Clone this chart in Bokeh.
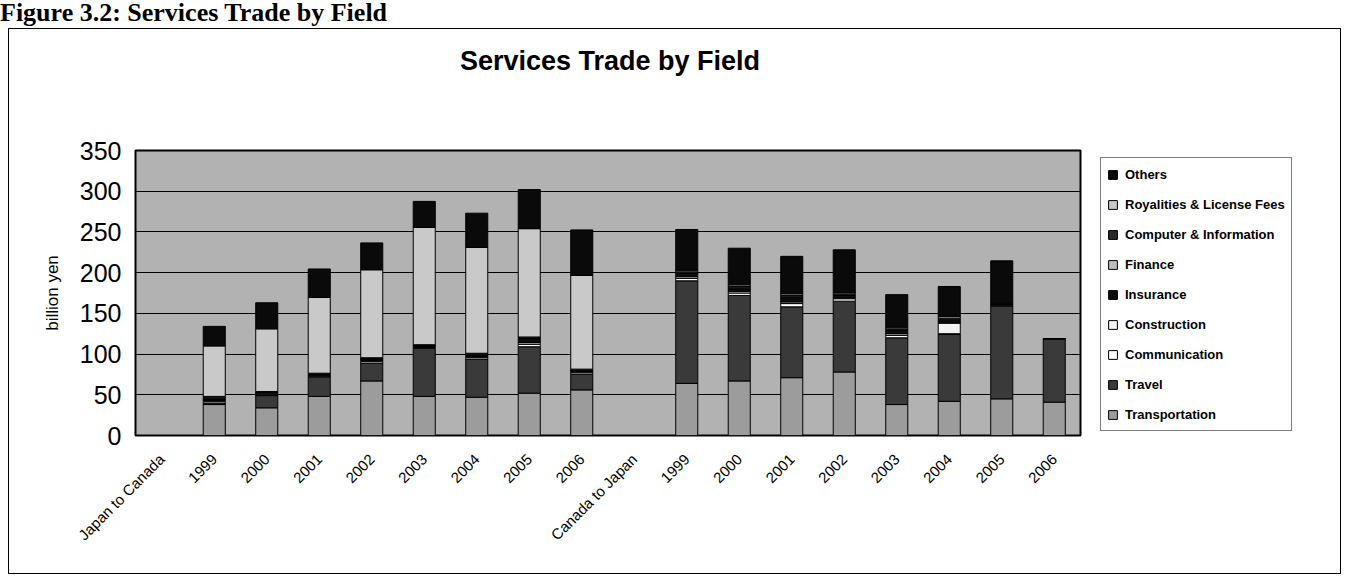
import math
from bokeh.plotting import figure
from bokeh.models import Range1d, FixedTicker, Legend, LegendItem, Div
from bokeh.layouts import column, row
from bokeh.embed import file_html
from bokeh.resources import INLINE

categories = ["Japan to Canada", "1999", "2000", "2001", "2002", "2003", "2004", "2005", "2006",
              "Canada to Japan", "1999", "2000", "2001", "2002", "2003", "2004", "2005", "2006"]
series_names = ["Transportation", "Travel", "Communication", "Construction", "Insurance",
                "Finance", "Computer & Information", "Royalities & License Fees", "Others"]

transportation = [0, 38, 34, 48, 67, 48, 47, 52, 56, 0, 64, 67, 71, 78, 38, 42, 45, 41]
travel = [0, 2, 15, 24, 22, 59, 47, 57, 19, 0, 126, 105, 87, 87, 82, 82, 114, 78]
communication = [0, 2, 1, 1, 2, 1, 2, 3, 2, 0, 3, 3, 4, 3, 3, 1, 1, 0]
construction = [0, 1, 1, 1, 1, 1, 1, 2, 1, 0, 2, 2, 2, 1, 2, 13, 0.5, 0]
insurance = [0, 2, 1, 1, 2, 1, 2, 4, 2, 0, 3, 3, 5, 2, 3, 3, 0.5, 0]
finance = [0, 1, 1, 0.5, 0.5, 0.5, 1, 1, 0.5, 0, 1, 1, 1, 1, 1, 1, 0, 0]
computer = [0, 2, 1, 1, 1, 1, 1, 2, 1, 0, 2, 2, 2, 1, 2, 2, 0.5, 0]
royalties = [0, 62, 77, 93, 108, 144, 130, 133, 115, 0, 2, 2, 2, 2, 2, 2, 1, 0]
others = [0, 24, 32, 35, 33, 32, 42, 48, 56, 0, 50, 45, 46, 53, 40, 37, 52, 0]

y_ticks = [0, 50, 100, 150, 200, 250, 300, 350]

colors = ["#9c9c9c", "#3a3a3a", "#ffffff", "#f2f2f2", "#0e0e0e",
          "#bdbdbd", "#2a2a2a", "#c9c9c9", "#0a0a0a"]

keys = ["transportation", "travel", "communication", "construction", "insurance",
        "finance", "computer", "royalties", "others"]
data = dict(x=list(range(len(categories))),
            transportation=transportation, travel=travel, communication=communication,
            construction=construction, insurance=insurance, finance=finance,
            computer=computer, royalties=royalties, others=others)

# ---- main chart ----
p = figure(frame_width=945, frame_height=285, x_range=Range1d(-0.5, len(categories) - 0.5),
           y_range=Range1d(0, 350), output_backend="svg", toolbar_location=None,
           min_border_left=127, min_border_right=20, min_border_top=62, min_border_bottom=139)

p.background_fill_color = "#b2b2b2"
p.border_fill_color = "white"
p.outline_line_color = "black"
p.outline_line_width = 2

renderers = p.vbar_stack(keys, x="x", width=0.42, source=data, fill_color=colors,
                         line_color="black", line_width=1)

p.xgrid.visible = False
p.ygrid.ticker = FixedTicker(ticks=y_ticks)
p.ygrid.grid_line_color = "black"
p.ygrid.grid_line_width = 1
p.ygrid.level = "underlay"

p.yaxis.ticker = FixedTicker(ticks=y_ticks)
p.yaxis.axis_line_color = None
p.yaxis.major_tick_line_color = None
p.yaxis.minor_tick_line_color = None
p.yaxis.major_label_text_font = "Liberation Sans"
p.yaxis.major_label_text_font_size = "25px"
p.yaxis.major_label_text_color = "black"
p.yaxis.major_label_standoff = 8
p.yaxis.axis_label = "billion yen"
p.yaxis.axis_label_text_font = "Liberation Sans"
p.yaxis.axis_label_text_font_style = "normal"
p.yaxis.axis_label_text_font_size = "17px"
p.yaxis.axis_label_text_color = "black"
p.yaxis.axis_label_standoff = 15

p.xaxis.ticker = FixedTicker(ticks=list(range(len(categories))))
p.xaxis.major_label_overrides = {i: c for i, c in enumerate(categories)}
p.xaxis.major_label_orientation = math.pi / 4
p.xaxis.axis_line_color = None
p.xaxis.major_tick_line_color = None
p.xaxis.minor_tick_line_color = None
p.xaxis.major_label_text_font = "Liberation Sans"
p.xaxis.major_label_text_font_size = "15px"
p.xaxis.major_label_text_color = "black"
p.xaxis.major_label_standoff = 15

# ---- legend panel (separate small figure, legend drawn inside its frame) ----
lf = figure(width=238, height=486, x_range=Range1d(0, 1), y_range=Range1d(0, 1),
            output_backend="svg", toolbar_location=None, x_axis_location=None,
            y_axis_location=None, min_border=0)
lf.xgrid.visible = False
lf.ygrid.visible = False
lf.outline_line_color = None
lf.background_fill_color = "white"
lf.border_fill_color = "white"
dummy = [lf.vbar(x=[5], top=[5], width=0.5, fill_color=c, line_color="black", line_width=1)
         for c in colors]
items = [LegendItem(label=series_names[i], renderers=[dummy[i]]) for i in range(len(keys) - 1, -1, -1)]
legend = Legend(items=items, location=(0, 4), orientation="vertical",
                label_text_font="Liberation Sans", label_text_font_size="13px",
                label_text_font_style="bold", label_text_color="black",
                label_height=20, glyph_height=11, glyph_width=11,
                spacing=10, padding=6, label_standoff=7, border_line_color="black",
                border_line_width=1, background_fill_color="white", background_fill_alpha=1,
                margin=0)
lf.add_layout(legend)

# ---- texts ----
title_div = Div(text='<div style="padding-top:18px;text-align:center;width:1204px;'
                     'font-family:\'Liberation Sans\';font-size:27px;font-weight:bold;'
                     'line-height:30px;color:#000">Services Trade by Field</div>',
                width=1333, height=60, margin=(0, 0, 0, 0))

caption = Div(text="Figure 3.2: Services Trade by Field", width=700, height=28, margin=(0, 0, 0, 0),
              styles={"font-family": "Liberation Serif", "font-size": "26px", "font-weight": "bold",
                      "line-height": "26px", "color": "black"})

frame_css = (":host::after { content: ''; position: absolute; left: 0; top: 0; right: 0; bottom: 0;"
             " border: 1px solid #000; pointer-events: none; z-index: 100; }")
box = column(title_div, row(p, lf, spacing=0), spacing=0, margin=(0, 0, 0, 8),
             stylesheets=[frame_css])

layout = column(caption, box, spacing=0)
open("out.html", "w").write(file_html(layout, INLINE))
